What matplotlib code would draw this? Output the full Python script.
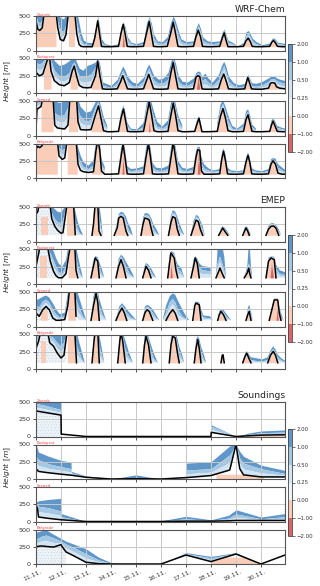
import numpy as np
import matplotlib
matplotlib.use('Agg')
import matplotlib.pyplot as plt
import matplotlib.cm as cm
from matplotlib.colors import ListedColormap, BoundaryNorm
from matplotlib.transforms import ScaledTranslation

nan = float('nan')

stations = ['Zagreb', 'Budapest', 'Szeged', 'Belgrade']
groups = ['WRF-Chem', 'EMEP', 'Soundings']
days = [11, 12, 13, 14, 15, 16, 17, 18, 19, 20]
day_labels = ['11.11.', '12.11.', '13.11.', '14.11.', '15.11.',
              '16.11.', '17.11.', '18.11.', '19.11.', '20.11.']
levels = [-2, -1, 0, 0.25, 0.5, 1, 2]
level_labels = ['\u22122.00', '\u22121.00', '0.00', '0.25', '0.50', '1.00', '2.00']

# rows: (day, black line height, edge light/medium blue, outer edge of blue) [m]
wrf_zagreb = [
    (11.00, 430, 500, 560), (11.07, 310, 420, 560), (11.15, 290, 400, 560), (11.25, 330, 450, 560),
    (11.33, 560, 560, 560), (11.80, 560, 560, 560), (11.87, 330, 420, 560), (11.97, 160, 300, 480),
    (12.10, 140, 280, 460), (12.20, 230, 380, 520), (12.30, 560, 560, 560), (12.55, 560, 560, 560),
    (12.63, 240, 400, 560), (12.72, 90, 250, 400), (12.80, 60, 150, 250), (12.90, 55, 100, 150),
    (13.05, 55, 90, 120), (13.25, 55, 85, 110), (13.35, 180, 230, 260), (13.47, 430, 470, 500),
    (13.55, 220, 300, 340), (13.62, 60, 120, 170), (13.75, 55, 80, 100), (14.00, 55, 65, 75),
    (14.30, 60, 80, 100), (14.40, 250, 300, 340), (14.49, 380, 400, 410), (14.57, 230, 300, 340),
    (14.65, 60, 160, 200), (14.80, 55, 100, 120), (15.00, 55, 80, 100), (15.30, 60, 100, 130),
    (15.42, 250, 330, 400), (15.53, 420, 470, 490), (15.62, 230, 330, 390), (15.70, 60, 180, 240),
    (15.85, 55, 110, 140), (16.05, 55, 100, 130), (16.25, 60, 150, 200), (16.38, 240, 330, 400),
    (16.49, 410, 450, 500), (16.58, 250, 350, 420), (16.68, 60, 220, 300), (16.80, 55, 130, 170),
    (17.00, 55, 100, 130), (17.30, 60, 110, 140), (17.40, 200, 270, 330), (17.49, 295, 360, 405),
    (17.58, 200, 270, 320), (17.66, 60, 150, 200), (17.85, 55, 110, 140), (18.05, 55, 100, 130),
    (18.35, 60, 110, 140), (18.45, 180, 240, 270), (18.53, 255, 290, 310), (18.60, 150, 200, 230),
    (18.68, 55, 120, 150), (18.85, 55, 100, 120), (19.05, 55, 60, 65), (19.30, 60, 90, 120),
    (19.40, 140, 220, 270), (19.49, 180, 250, 290), (19.57, 130, 200, 240), (19.65, 60, 140, 180),
    (19.80, 55, 100, 130), (20.05, 55, 70, 85), (20.35, 60, 90, 110), (20.43, 120, 150, 170),
    (20.50, 145, 165, 185), (20.58, 110, 140, 160), (20.66, 60, 100, 120), (20.85, 55, 90, 110),
    (20.96, 55, 80, 100),
]
wrf_budapest = [
    (11.00, 300, 440, 560), (11.13, 250, 420, 560), (11.27, 270, 450, 560), (11.40, 420, 560, 560),
    (11.53, 560, 560, 560), (11.60, 320, 470, 560), (11.73, 180, 330, 470), (11.93, 120, 250, 400),
    (12.13, 105, 240, 420), (12.33, 150, 300, 470), (12.45, 320, 420, 530), (12.53, 390, 450, 540),
    (12.62, 250, 350, 450), (12.73, 110, 250, 360), (12.87, 80, 230, 330), (13.05, 75, 250, 400),
    (13.20, 80, 280, 420), (13.38, 250, 380, 450), (13.47, 460, 490, 520), (13.56, 240, 330, 400),
    (13.66, 60, 120, 160), (13.80, 55, 100, 140), (14.00, 55, 80, 110), (14.25, 60, 150, 200),
    (14.38, 160, 260, 320), (14.47, 250, 330, 390), (14.56, 160, 260, 330), (14.66, 60, 170, 240),
    (14.85, 55, 110, 160), (15.05, 55, 100, 140), (15.30, 60, 170, 230), (15.42, 180, 300, 360),
    (15.51, 270, 360, 420), (15.60, 170, 270, 350), (15.70, 60, 190, 260), (15.90, 55, 140, 200),
    (16.10, 55, 150, 220), (16.28, 60, 200, 300), (16.40, 300, 400, 470), (16.49, 440, 480, 520),
    (16.58, 250, 360, 430), (16.68, 60, 180, 260), (16.85, 55, 120, 170), (17.05, 55, 110, 160),
    (17.30, 60, 160, 220), (17.40, 230, 270, 300), (17.47, 250, 290, 320), (17.55, 240, 280, 310),
    (17.64, 60, 180, 240), (17.75, 55, 210, 290), (17.90, 55, 150, 210), (18.05, 55, 110, 160),
    (18.30, 60, 200, 270), (18.42, 200, 330, 400), (18.51, 275, 400, 460), (18.60, 180, 300, 380),
    (18.70, 60, 170, 240), (18.90, 55, 110, 150), (19.10, 55, 90, 120), (19.35, 60, 100, 140),
    (19.42, 160, 200, 230), (19.47, 225, 250, 270), (19.54, 150, 190, 220), (19.62, 60, 110, 150),
    (19.80, 55, 100, 140), (20.05, 55, 120, 170), (20.30, 70, 170, 220), (20.38, 140, 200, 240),
    (20.44, 150, 210, 250), (20.55, 145, 200, 240), (20.62, 90, 180, 220), (20.75, 70, 160, 200),
    (20.96, 60, 140, 180),
]
wrf_szeged = [
    (11.00, 100, 300, 560), (11.04, 380, 470, 560), (11.12, 400, 480, 560), (11.20, 420, 500, 560),
    (11.28, 560, 560, 560), (11.68, 560, 560, 560), (11.75, 150, 330, 520), (11.85, 110, 300, 480),
    (12.00, 100, 280, 470), (12.15, 95, 300, 500), (12.28, 150, 400, 560), (12.36, 560, 560, 560),
    (12.62, 560, 560, 560), (12.68, 200, 380, 540), (12.78, 85, 280, 420), (13.00, 80, 200, 330),
    (13.20, 85, 220, 350), (13.38, 300, 400, 480), (13.50, 430, 490, 540), (13.60, 250, 350, 430),
    (13.70, 70, 200, 280), (13.85, 55, 100, 140), (14.05, 55, nan, nan), (14.30, 60, 80, 100),
    (14.40, 250, 300, 340), (14.50, 385, 420, 440), (14.58, 220, 290, 330), (14.66, 60, 140, 180),
    (14.80, 55, 80, 100), (15.05, 55, 70, 90), (15.30, 60, 120, 180), (15.43, 300, 400, 470),
    (15.53, 490, 540, 560), (15.62, 300, 400, 480), (15.72, 70, 250, 350), (15.85, 55, 130, 200),
    (16.05, 55, 100, 130), (16.28, 60, 150, 220), (16.40, 300, 400, 480), (16.49, 470, 520, 560),
    (16.58, 300, 400, 470), (16.68, 70, 220, 300), (16.85, 55, 110, 150), (17.05, 55, nan, nan),
    (17.35, 60, 80, 100), (17.45, 180, 220, 240), (17.52, 250, 270, 280), (17.58, 150, 180, 200),
    (17.64, 55, 70, 90), (17.90, 55, nan, nan), (18.25, 60, 120, 170), (18.38, 280, 380, 450),
    (18.48, 390, 460, 510), (18.58, 250, 350, 420), (18.68, 70, 220, 300), (18.85, 55, 100, 140),
    (19.05, 55, 80, 100), (19.30, 60, 130, 170), (19.40, 230, 300, 350), (19.48, 300, 340, 380),
    (19.56, 180, 250, 300), (19.64, 60, 120, 160), (19.80, 55, 80, 100), (20.05, 55, nan, nan),
    (20.35, 60, 90, 110), (20.42, 150, 190, 220), (20.48, 210, 240, 260), (20.56, 140, 180, 210),
    (20.65, 60, 110, 140), (20.85, 55, 90, 110), (20.96, 55, 80, 100),
]
wrf_belgrade = [
    (11.00, 420, 500, 560), (11.07, 460, 520, 560), (11.15, 440, 510, 560), (11.25, 470, 540, 560),
    (11.30, 560, 560, 560), (11.85, 560, 560, 560), (11.92, 320, 430, 560), (12.05, 270, 400, 540),
    (12.15, 290, 420, 560), (12.25, 560, 560, 560), (12.60, 560, 560, 560), (12.68, 200, 330, 450),
    (12.78, 110, 240, 330), (12.90, 90, 160, 230), (13.10, 80, 130, 180), (13.30, 90, 180, 260),
    (13.40, 400, 480, 540), (13.48, 560, 560, 560), (13.55, 400, 470, 530), (13.62, 100, 200, 280),
    (13.75, 55, 110, 160), (13.95, 55, nan, nan), (14.30, 60, 100, 130), (14.40, 300, 360, 420),
    (14.48, 490, 520, 540), (14.56, 300, 380, 430), (14.65, 60, 130, 170), (14.80, 55, 100, 130),
    (15.05, 55, 110, 140), (15.30, 60, 130, 170), (15.40, 300, 380, 440), (15.50, 500, 530, 560),
    (15.58, 300, 380, 440), (15.66, 60, 160, 220), (15.80, 55, 110, 150), (16.05, 55, 100, 140),
    (16.30, 60, 130, 180), (16.40, 300, 380, 440), (16.49, 520, 560, 560), (16.58, 300, 400, 460),
    (16.68, 60, 190, 250), (16.85, 55, 110, 150), (17.05, 55, 100, 130), (17.30, 60, 120, 160),
    (17.40, 300, 350, 390), (17.47, 410, 430, 450), (17.55, 400, 420, 450), (17.62, 100, 220, 300),
    (17.72, 55, 140, 200), (17.90, 55, 110, 140), (18.10, 55, 90, 110), (18.35, 60, 100, 130),
    (18.42, 250, 300, 330), (18.50, 390, 410, 430), (18.58, 250, 300, 340), (18.66, 60, 110, 150),
    (18.80, 55, 90, 110), (19.05, 55, 80, 100), (19.30, 60, 90, 110), (19.40, 230, 270, 290),
    (19.48, 330, 350, 370), (19.55, 230, 270, 300), (19.63, 60, 110, 140), (19.80, 55, 90, 110),
    (20.05, 55, 80, 100), (20.30, 60, 100, 130), (20.40, 200, 240, 270), (20.48, 250, 270, 290),
    (20.58, 200, 240, 280), (20.68, 70, 150, 200), (20.85, 55, 110, 150), (20.96, 55, 90, 120),
]

emep_zagreb = [
    (11.00, 400, 470, 560), (11.07, 430, 500, 560), (11.14, 560, 560, 560), (11.55, 560, 560, 560),
    (11.63, 330, 420, 520), (11.75, 220, 330, 470), (11.87, 160, 280, 430), (12.00, 120, 270, 420),
    (12.08, 130, 300, 460), (12.25, 560, 560, 560), (12.50, 560, 560, 560), (12.57, 100, 300, 450),
    (12.66, nan, 200, 300), (12.75, nan, 120, 200), (12.87, nan, 90, 100), (12.90, nan, nan, nan),
    (13.24, 90, 95, 100), (13.30, 250, 300, 330), (13.37, 560, 560, 560), (13.47, 560, 560, 560),
    (13.52, 150, 400, 560), (13.60, 90, 200, 350), (13.67, nan, 90, 100), (13.70, nan, nan, nan),
    (14.13, 90, 95, 100), (14.25, 200, 260, 300), (14.31, 340, 380, 400), (14.40, 365, 400, 430),
    (14.49, 340, 390, 420), (14.60, 150, 300, 360), (14.67, 90, 200, 280), (14.78, nan, 120, 200),
    (14.87, nan, 90, 95), (14.90, nan, nan, nan),
    (15.20, 90, 95, 100), (15.28, 250, 300, 340), (15.35, 340, 380, 410), (15.45, 330, 380, 410),
    (15.53, 310, 360, 390), (15.62, 170, 280, 330), (15.68, 90, 200, 260), (15.80, nan, 130, 190),
    (15.93, nan, 90, 95), (15.96, nan, nan, nan),
    (16.30, 90, 95, 100), (16.40, 280, 340, 380), (16.47, 360, 420, 455), (16.57, 340, 400, 430),
    (16.65, 180, 300, 360), (16.73, 90, 200, 270), (16.83, nan, 130, 180), (16.93, nan, 90, 95),
    (16.96, nan, nan, nan),
    (17.20, 90, 95, 100), (17.30, 200, 260, 300), (17.40, 310, 360, 385), (17.49, 290, 340, 370),
    (17.58, 170, 250, 300), (17.67, 90, 170, 220), (17.75, nan, 90, 100), (17.78, nan, nan, nan),
    (18.31, 90, 95, 100), (18.40, 150, 180, 200), (18.47, 195, 210, 220), (18.55, 150, 180, 200),
    (18.67, 90, 120, 140), (18.75, nan, 90, 95), (18.78, nan, nan, nan),
    (19.27, 90, 95, 100), (19.34, 150, 180, 200), (19.40, 195, 210, 220), (19.47, 150, 180, 205),
    (19.53, 90, 120, 150), (19.60, nan, 90, 95), (19.63, nan, nan, nan),
    (20.20, 90, 95, 100), (20.30, 180, 210, 230), (20.40, 220, 250, 265), (20.50, 225, 250, 265),
    (20.60, 195, 220, 240), (20.71, 90, 150, 180), (20.80, nan, 90, 95), (20.83, nan, nan, nan),
]
emep_budapest = [
    (11.00, 257, 400, 560), (11.10, 430, 520, 560), (11.17, 560, 560, 560), (11.45, 560, 560, 560),
    (11.57, 330, 450, 560), (11.70, 184, 350, 480), (11.80, 120, 260, 380), (11.90, 90, 180, 300),
    (12.05, 90, 150, 250), (12.20, 150, 250, 350), (12.30, 400, 480, 560), (12.38, 560, 560, 560),
    (12.55, 560, 560, 560), (12.60, 200, 400, 560), (12.67, 90, 280, 420), (12.77, nan, 150, 250),
    (12.87, nan, 90, 95), (12.90, nan, nan, nan),
    (13.20, 90, 95, 100), (13.28, 230, 300, 330), (13.37, 377, 390, 405), (13.47, 330, 370, 390),
    (13.53, 90, 250, 320), (13.63, nan, 150, 220), (13.73, nan, 90, 95), (13.76, nan, nan, nan),
    (14.20, 90, 95, 100), (14.30, 250, 320, 360), (14.40, 353, 400, 425), (14.50, 250, 340, 390),
    (14.60, 90, 250, 320), (14.75, nan, 150, 230), (14.93, nan, 90, 95), (14.96, nan, nan, nan),
    (15.27, 90, 95, 100), (15.34, 180, 230, 260), (15.40, 255, 285, 305), (15.50, 200, 250, 280),
    (15.60, 90, 180, 230), (15.70, nan, 120, 160), (15.80, nan, 90, 95), (15.83, nan, nan, nan),
    (16.27, 90, 95, 100), (16.34, 300, 380, 420), (16.40, 450, 470, 480), (16.53, 377, 420, 450),
    (16.60, 200, 300, 350), (16.67, 90, 220, 280), (16.80, nan, 180, 240), (16.93, nan, 90, 95),
    (16.96, nan, nan, nan),
    (17.20, 90, 95, 100), (17.30, 250, 320, 360), (17.37, 377, 390, 402), (17.45, 300, 340, 370),
    (17.53, 90, 240, 300), (17.65, nan, 200, 260), (17.85, nan, 190, 250), (17.98, nan, 180, 240),
    (18.00, nan, 90, 95), (18.03, nan, nan, nan),
    (18.20, 90, 95, 100), (18.27, 150, 300, 560), (18.36, 230, 400, 560), (18.45, 150, 300, 560),
    (18.53, 90, 200, 400), (18.60, nan, 90, 95), (18.63, nan, nan, nan),
    (19.33, 90, 95, 100), (19.45, 160, 200, 250), (19.51, 230, 300, 560), (19.55, 150, 250, 560),
    (19.60, 90, 150, 250), (19.65, nan, 90, 95), (19.68, nan, nan, nan),
    (20.20, 90, 95, 100), (20.30, 330, 360, 380), (20.40, 377, 390, 400), (20.53, 353, 380, 395),
    (20.60, 90, 220, 280), (20.75, nan, 150, 200), (20.96, nan, 130, 170),
]
emep_szeged = [
    (11.00, 195, 300, 380), (11.13, 148, 280, 400), (11.27, 243, 360, 430), (11.40, 290, 390, 450),
    (11.53, 243, 350, 420), (11.67, 124, 250, 340), (11.80, 90, 180, 250), (11.95, 90, 130, 180),
    (12.15, 100, 150, 200), (12.27, 300, 400, 480), (12.35, 560, 560, 560), (12.55, 560, 560, 560),
    (12.60, 150, 400, 560), (12.70, nan, 300, 450), (12.87, nan, 150, 250), (13.00, nan, 90, 95),
    (13.03, nan, nan, nan),
    (13.20, 90, 95, 100), (13.30, 300, 380, 440), (13.40, 480, 540, 560), (13.47, 350, 450, 520),
    (13.53, 90, 300, 400), (13.65, nan, 180, 260), (13.80, nan, 90, 95), (13.83, nan, nan, nan),
    (14.20, 90, 95, 100), (14.33, 200, 250, 290), (14.44, 267, 310, 338), (14.53, 200, 260, 300),
    (14.63, 90, 200, 250), (14.80, nan, 130, 180), (15.00, nan, 90, 95), (15.03, nan, nan, nan),
    (15.27, 90, 95, 100), (15.36, 200, 250, 290), (15.44, 243, 290, 314), (15.53, 219, 270, 300),
    (15.67, 90, 200, 250), (15.80, nan, 130, 170), (15.93, nan, 90, 95), (15.96, nan, nan, nan),
    (16.07, nan, 95, 100), (16.20, 90, 200, 300), (16.35, 190, 350, 440), (16.47, 243, 400, 480),
    (16.57, 190, 350, 460), (16.67, 90, 250, 380), (16.85, nan, 150, 250), (17.00, nan, 110, 150),
    (17.13, nan, 90, 95), (17.16, nan, nan, nan),
    (17.27, 90, 95, 100), (17.35, 300, 330, 350), (17.40, 338, 350, 362), (17.53, 314, 330, 350),
    (17.60, 90, 200, 250), (17.70, nan, 130, 160), (17.95, nan, 120, 150), (18.07, nan, 90, 95),
    (18.10, nan, nan, nan),
    (18.27, 90, 95, 100), (18.33, 170, 200, 220), (18.40, 219, 235, 250), (18.50, 170, 210, 240),
    (18.60, 90, 150, 190), (18.80, nan, 90, 95), (18.83, nan, nan, nan),
    (19.40, 90, 95, 100), (19.48, 180, 230, 280), (19.53, 219, 270, 314), (19.60, 90, 180, 220),
    (19.67, nan, 90, 95), (19.70, nan, nan, nan),
    (20.33, 90, 95, 100), (20.45, 267, 280, 290), (20.53, 385, 395, 405), (20.67, 385, 395, 405),
    (20.73, 200, 250, 290), (20.80, 90, 150, 200), (20.90, nan, 90, 95), (20.93, nan, nan, nan),
]
emep_belgrade = [
    (11.00, 300, 420, 560), (11.10, 400, 500, 560), (11.20, 560, 560, 560), (11.45, 560, 560, 560),
    (11.55, 380, 480, 560), (11.70, 330, 450, 560), (11.85, 230, 380, 530), (12.00, 160, 330, 480),
    (12.12, 200, 380, 530), (12.25, 560, 560, 560), (12.55, 560, 560, 560), (12.62, 90, 350, 560),
    (12.72, nan, 250, 400), (12.87, nan, 120, 200), (12.95, nan, 90, 95), (12.98, nan, nan, nan),
    (13.24, 90, 95, 100), (13.32, 400, 480, 520), (13.37, 560, 560, 560), (13.47, 560, 560, 560),
    (13.53, 90, 350, 500), (13.63, nan, 200, 300), (13.73, nan, 90, 95), (13.76, nan, nan, nan),
    (14.27, 90, 95, 100), (14.35, 400, 470, 520), (14.40, 530, 560, 560), (14.47, 400, 480, 530),
    (14.57, 90, 300, 420), (14.70, nan, 180, 260), (14.87, nan, 90, 95), (14.90, nan, nan, nan),
    (15.27, 90, 95, 100), (15.34, 350, 420, 470), (15.40, 475, 500, 530), (15.50, 350, 420, 470),
    (15.60, 90, 260, 350), (15.72, nan, 150, 220), (15.87, nan, 90, 95), (15.90, nan, nan, nan),
    (16.33, 90, 95, 100), (16.40, 350, 430, 490), (16.47, 475, 520, 560), (16.57, 450, 500, 540),
    (16.65, 250, 380, 450), (16.73, 90, 250, 330), (16.85, nan, 150, 200), (16.93, nan, 90, 95),
    (16.96, nan, nan, nan),
    (17.33, 90, 95, 100), (17.40, 300, 380, 430), (17.47, 426, 450, 475), (17.53, 300, 380, 440),
    (17.60, 90, 250, 330), (17.72, nan, 130, 200), (17.80, nan, 90, 95), (17.83, nan, nan, nan),
    (18.40, 90, 95, 100), (18.45, 200, 210, 215), (18.48, 206, 212, 218), (18.53, 90, 100, 110),
    (18.56, nan, 90, 95), (18.59, nan, nan, nan),
    (19.27, 90, 100, 120), (19.36, 180, 200, 220), (19.43, 230, 245, 260), (19.52, 150, 180, 210),
    (19.60, 90, 130, 170), (19.75, nan, 120, 160), (19.92, nan, 110, 150), (20.05, nan, 110, 140),
    (20.27, 90, 130, 170), (20.38, 200, 240, 270), (20.49, 255, 290, 330), (20.58, 200, 240, 280),
    (20.67, 90, 170, 210), (20.80, nan, 130, 160), (20.96, nan, 100, 120),
]

snd_zagreb = [
    (11.00, 370, 480, 500), (11.50, 340, 440, 500), (12.00, 310, 390, 500), (12.01, 35, 35, 35),
    (13.00, 0, 0, 0), (18.00, 0, 0, 0), (18.01, 60, 150, 170), (19.00, 0, 0, 0),
    (19.50, 10, 30, 50), (20.00, 20, 55, 80), (20.96, 25, 65, 95),
]
snd_budapest = [
    (11.00, 150, 330, 500), (11.10, 110, 280, 390), (11.50, 90, 220, 330), (12.00, 70, 180, 270),
    (12.40, 55, 150, 245), (12.41, 55, 90, 110), (13.00, 25, 35, 45), (13.50, 12, 20, 25),
    (14.00, 0, 0, 0), (15.00, 5, 25, 60), (16.00, 0, 0, 0), (17.00, 20, 30, 40),
    (17.01, 20, 130, 230), (18.00, 50, 150, 250), (18.75, 130, 350, 480), (19.00, 500, 500, 500),
    (19.15, 150, 300, 400), (19.30, 60, 230, 330), (20.00, 30, 150, 200), (20.96, 30, 80, 125),
]
snd_szeged = [
    (11.00, 235, 260, 285), (11.06, 190, 250, 290), (11.10, 65, 220, 300), (11.50, 45, 200, 320),
    (12.00, 25, 150, 335), (12.01, 25, 70, 115), (13.00, 0, 0, 0), (16.00, 0, 5, 10),
    (17.00, 5, 40, 75), (18.00, 5, 15, 25), (18.70, 10, 50, 90), (19.00, 15, 110, 170),
    (20.00, 15, 40, 65), (20.96, 15, 70, 115),
]
snd_belgrade = [
    (11.00, 250, 360, 460), (11.20, 262, 400, 480), (11.40, 255, 420, 495), (11.70, 245, 380, 430),
    (12.00, 280, 330, 370), (12.05, 250, 320, 360), (12.20, 175, 290, 330), (12.50, 120, 240, 290),
    (13.00, 25, 150, 220), (13.50, 5, 60, 100), (14.00, 0, 10, 20), (14.50, 0, 0, 0),
    (16.00, 0, 0, 0), (17.00, 130, 150, 165), (18.00, 35, 90, 110), (19.00, 145, 155, 165),
    (20.00, 0, 0, 0), (20.96, 130, 130, 130),
]

# (start, end, max height) of negative (salmon) and near-zero (dotted) areas under the black line
wrf_days_neg = [(13.2, 13.8, 560), (14.2, 14.8, 560), (15.2, 15.8, 560), (16.2, 16.8, 560),
                (17.2, 17.8, 560), (18.2, 18.8, 560), (19.2, 19.8, 560), (20.2, 20.8, 560)]
emep_days_neg = [(13.15, 13.85, 560), (14.1, 14.85, 560), (15.15, 15.85, 560), (16.15, 16.85, 560),
                 (17.15, 17.85, 560), (18.15, 18.85, 560), (19.15, 19.85, 560), (20.15, 20.85, 560)]
wrf_neg = {
    'Zagreb': [(11.0, 11.8, 560), (12.3, 12.55, 560)],
    'Budapest': [(11.3, 11.6, 560), (12.36, 12.65, 560)],
    'Szeged': [(11.2, 11.68, 560), (12.3, 12.66, 560)],
    'Belgrade': [(11.0, 11.85, 560), (12.25, 12.65, 560)],
}
emep_neg = {
    'Zagreb': [(11.2, 11.47, 362), (12.22, 12.55, 560)],
    'Budapest': [(11.17, 11.45, 400), (12.28, 12.6, 560)],
    'Szeged': [(11.18, 11.45, 240), (12.27, 12.58, 560)],
    'Belgrade': [(11.2, 11.4, 400), (12.25, 12.58, 560)],
}
emep_zero = {
    'Zagreb': [(11.0, 12.15, 560)],
    'Budapest': [(11.0, 11.95, 560)],
    'Szeged': [(11.0, 11.9, 560)],
    'Belgrade': [(11.0, 12.2, 560)],
}
snd_neg = {
    'Zagreb': [(19.3, 20.96, 560)],
    'Budapest': [(18.2, 20.1, 70)],
    'Szeged': [],
    'Belgrade': [(18.0, 20.0, 100)],
}
snd_zero = {
    'Zagreb': [(11.0, 12.0, 560)],
    'Budapest': [],
    'Szeged': [],
    'Belgrade': [(11.0, 12.2, 560)],
}
# strongly negative spots: (left, peak time, right, height)
wrf_red = {
    'Zagreb': [(14.45, 14.49, 14.53, 260)],
    'Budapest': [(17.42, 17.48, 17.55, 240)],
    'Szeged': [(15.5, 15.53, 15.56, 220)],
    'Belgrade': [(14.44, 14.48, 14.52, 320), (17.45, 17.5, 17.56, 380)],
}
emep_red = {
    'Zagreb': [],
    'Budapest': [(16.36, 16.4, 16.45, 300), (20.36, 20.42, 20.5, 300)],
    'Szeged': [(20.6, 20.65, 20.69, 260)],
    'Belgrade': [],
}

C_RED = '#d9646a'
C_SALMON = '#f9cdb8'
C_ZERO = '#eef3f7'
C_DOT = '#c4d6e6'
C_PALE = '#d3e5f2'
C_LIGHT = '#a4c8e4'
C_MED = '#5f97cb'
cmap = ListedColormap([C_RED, C_SALMON, C_ZERO, C_PALE, C_LIGHT, C_MED])
norm = BoundaryNorm(levels, cmap.N)

W, H = 320.0, 586.0


def px_axes(fig, left, top, width, height):
    return fig.add_axes([left / W, 1 - (top + height) / H, width / W, height / H])


def draw_panel(ax, rows, base, neg, zero, red):
    t = np.array([r[0] for r in rows], float)
    pbl = np.array([r[1] for r in rows], float)
    mid = np.array([r[2] for r in rows], float)
    top = np.array([r[3] for r in rows], float)
    low = np.where(np.isnan(pbl), base, pbl)
    inner = low + 0.5 * (mid - low)

    ax.fill_between(t, mid, top, color=C_MED, lw=0)
    ax.fill_between(t, inner, mid, color=C_LIGHT, lw=0)
    ax.fill_between(t, low, inner, color=C_PALE, lw=0)

    for t0, t1, hmax in zero:
        tt = np.linspace(t0, t1, 80)
        hh = np.minimum(np.interp(tt, t, low), hmax)
        ax.fill_between(tt, base, hh, facecolor=C_ZERO, edgecolor=C_DOT, hatch='......', lw=0)
    for t0, t1, hmax in neg:
        tt = np.linspace(t0, t1, 80)
        hh = np.minimum(np.interp(tt, t, low), hmax)
        ax.fill_between(tt, base, hh, color=C_SALMON, lw=0)
    for tl, tp, tr, h in red:
        ax.fill_between([tl, tp, tr], base, [base, h, base], color=C_RED, lw=0)

    ax.plot(t, pbl, color='black', lw=1.1, solid_joinstyle='round')


plt.rcParams['hatch.linewidth'] = 0.4

fig = plt.figure(figsize=(W / 100, H / 100), dpi=100)

group_tops = [[16, 58.5, 101, 143.5], [207, 249.5, 292, 334.5], [402, 444.5, 487, 529.5]]
cbar_pos = [(44, 108), (235, 107), (429, 107)]
group_rows = [
    [wrf_zagreb, wrf_budapest, wrf_szeged, wrf_belgrade],
    [emep_zagreb, emep_budapest, emep_szeged, emep_belgrade],
    [snd_zagreb, snd_budapest, snd_szeged, snd_belgrade],
]
group_base = [55, 90, 0]

for g, name in enumerate(groups):
    for i, st in enumerate(stations):
        ax = px_axes(fig, 36, group_tops[g][i], 249, 34.5)
        if g == 0:
            neg, zero, red = wrf_neg[st] + wrf_days_neg, [], wrf_red[st]
        elif g == 1:
            neg, zero, red = emep_neg[st] + emep_days_neg, emep_zero[st], emep_red[st]
        else:
            neg, zero, red = snd_neg[st], snd_zero[st], []
        draw_panel(ax, group_rows[g][i], group_base[g], neg, zero, red)

        ax.set_xlim(11, 20.96)
        ax.set_ylim(0, 500)
        ax.set_yticks([0, 250, 500])
        ax.set_xticks(days)
        ax.grid(True, color='#c8c8c8', lw=0.7)
        ax.tick_params(labelsize=4.6, length=2.5, width=0.6, pad=1.2, colors='#333333')
        for sp in ax.spines.values():
            sp.set_color('#555555')
            sp.set_linewidth(0.8)
        if g == 2 and i == 3:
            ax.set_xticklabels(day_labels, rotation=25, fontsize=4.4, ha='right',
                               rotation_mode='anchor')
            shift = ScaledTranslation(4 / 100, 0, fig.dpi_scale_trans)
            for lab in ax.get_xticklabels():
                lab.set_transform(lab.get_transform() + shift)
        else:
            ax.set_xticklabels([])
        ax.text(0.003, 0.985, st, transform=ax.transAxes, color='#f04848',
                fontsize=2.8, va='bottom', ha='left')
        if i == 0:
            ax.set_title(name, loc='right', fontsize=6.6, pad=3.2, color='#222222')
        if i == 1:
            ax.set_ylabel(r'$Height\ [m]$', fontsize=5.4, color='#222222')
            ax.yaxis.set_label_coords(-0.094, 0.35)

    ctop, ch = cbar_pos[g]
    cax = px_axes(fig, 288, ctop, 4, ch)
    cb = fig.colorbar(cm.ScalarMappable(norm=norm, cmap=cmap), cax=cax,
                      boundaries=levels, spacing='uniform', ticks=levels)
    cb.set_ticklabels(level_labels)
    cb.ax.tick_params(labelsize=3.9, length=2, width=0.5, pad=1, colors='#333333')
    cb.outline.set_linewidth(0.6)
    cb.outline.set_edgecolor('#444444')

fig.savefig('out.png', dpi=100)
